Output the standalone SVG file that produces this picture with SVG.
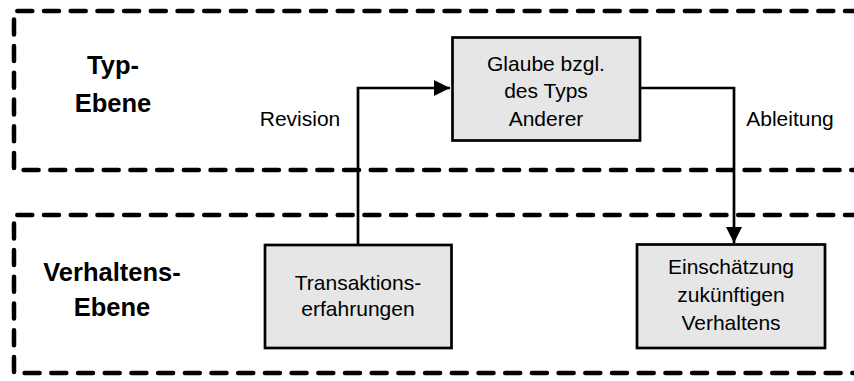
<svg xmlns="http://www.w3.org/2000/svg" width="854" height="381" viewBox="0 0 854 381">
  <defs>
    <style>
      .level { fill: none; stroke: #000; stroke-width: 4.5; stroke-dasharray: 15 11.7; stroke-linecap: round; stroke-linejoin: round; }
      .box { fill: #e6e6e6; stroke: #000; stroke-width: 2.7; }
      .txt { font-family: "Liberation Sans", Arial, sans-serif; font-size: 21px; fill: #000; text-anchor: middle; }
      .head { font-family: "Liberation Sans", Arial, sans-serif; font-size: 25.5px; font-weight: bold; fill: #000; text-anchor: middle; }
      .wire { fill: none; stroke: #000; stroke-width: 2.7; }
    </style>
    <marker id="arrow" viewBox="0 0 10 10" refX="10" refY="5" markerUnits="userSpaceOnUse" markerWidth="17" markerHeight="16" orient="auto">
      <path d="M0,0 L10,5 L0,10 z" fill="#000"/>
    </marker>
  </defs>

  <!-- level frames, open towards the right edge -->
  <g id="level-typ">
    <path class="level" d="M860,11 H14 V170 H860"/>
    <text class="head" x="113" y="74">Typ-</text>
    <text class="head" x="113" y="112">Ebene</text>
  </g>
  <g id="level-verhalten">
    <path class="level" d="M860,215 H14 V373 H860"/>
    <text class="head" x="112" y="281">Verhaltens-</text>
    <text class="head" x="112" y="316">Ebene</text>
  </g>

  <!-- connectors -->
  <g id="connectors">
    <path class="wire" d="M358,244 V88 H450" marker-end="url(#arrow)"/>
    <path class="wire" d="M640,88 H734 V243" marker-end="url(#arrow)"/>
    <text class="txt" x="300" y="126">Revision</text>
    <text class="txt" x="790" y="126">Ableitung</text>
  </g>

  <g id="node-glaube">
    <rect class="box" x="452.5" y="37.5" width="187.5" height="103"/>
    <text class="txt" x="546" y="70.5">Glaube bzgl.</text>
    <text class="txt" x="546" y="98">des Typs</text>
    <text class="txt" x="546" y="125.5">Anderer</text>
  </g>

  <g id="node-transaktionen">
    <rect class="box" x="265" y="245" width="186.5" height="103"/>
    <text class="txt" x="358" y="290">Transaktions-</text>
    <text class="txt" x="358" y="316">erfahrungen</text>
  </g>

  <g id="node-einschaetzung">
    <rect class="box" x="637" y="244.5" width="188" height="103.5"/>
    <text class="txt" x="731" y="273.5">Einschätzung</text>
    <text class="txt" x="731" y="301.5">zukünftigen</text>
    <text class="txt" x="731" y="329.5">Verhaltens</text>
  </g>
</svg>
